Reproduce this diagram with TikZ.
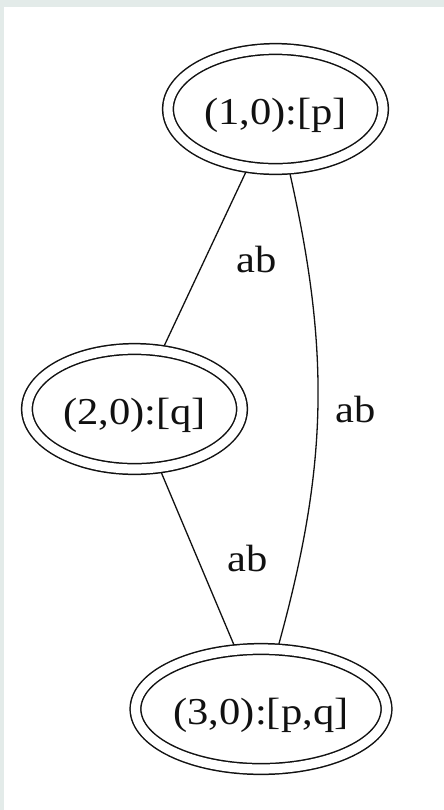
\documentclass[tikz,border=0pt]{standalone}
\usepackage{fontspec}
\setmainfont{Liberation Serif}
\newfontfamily\dotfont[FakeStretch=1.12]{Liberation Serif}
\usepackage{tikz}
\usetikzlibrary{positioning,shapes.geometric}
\definecolor{cFrame}{HTML}{E3EBE9}
\definecolor{cInk}{HTML}{111111}
\tikzset{
  dstate/.style={ellipse,draw=cInk,line width=0.75pt,double,double distance=4.6pt,inner sep=0pt,outer sep=2.9pt,
    minimum height=60pt,minimum width=#1,text height=15pt,text depth=0pt,text=cInk,font=\dotfont\fontsize{19}{22}\selectfont},
  dstate/.default=107.5pt,
  tr/.style={draw=cInk,line width=0.65pt},
  lbl/.style={font=\dotfont\fontsize{19}{22}\selectfont,inner sep=0pt,outer sep=0pt,text=cInk},
}
\begin{document}
\begin{tikzpicture}[x=0.5pt,y=-0.5pt]
  \fill[cFrame] (0,0) rectangle (444,810);
  \fill[white] (4,7) rectangle (444,810);
  \useasboundingbox (0,0) rectangle (444,810);
  % states
  \node[dstate] (s10) at (275.5,109) {(1,0):[p]};
  \node[dstate] (s20) at (134.5,409) {(2,0):[q]};
  \node[dstate=125.5pt] (s30) at (261,709) {(3,0):[p,q]};
  % transitions
  \draw[tr] (s10) -- node[lbl,right=16pt] {ab} (s20);
  \draw[tr] (s20) -- node[lbl,right=15pt] {ab} (s30);
  \draw[tr] (s10) to[bend left=14] node[lbl,right=9pt] {ab} (s30);
\end{tikzpicture}
\end{document}
